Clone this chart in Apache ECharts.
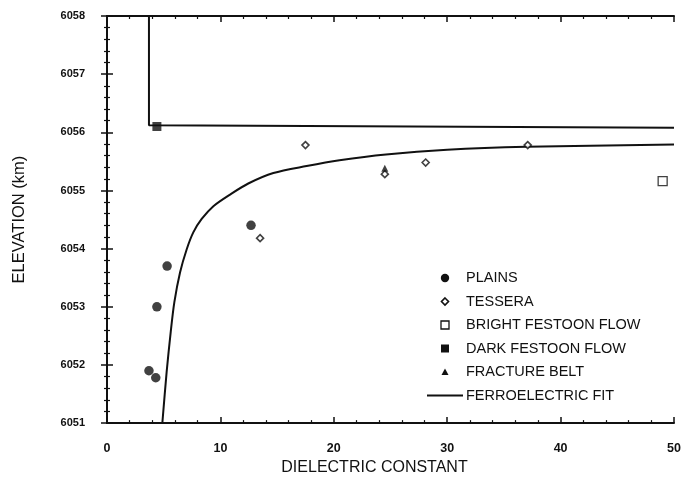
<!DOCTYPE html>
<html>
<head>
<meta charset="utf-8">
<script src="https://cdn.jsdelivr.net/npm/echarts@6/dist/echarts.min.js"></script>
<style>
  html, body { margin: 0; padding: 0; background: #fff; }
  #chart { width: 685px; height: 481px; }
</style>
</head>
<body>
<div id="chart"></div>
<script>
// Elevation vs. dielectric constant by terrain unit
var plains = [[3.7, 6051.9], [4.3, 6051.78], [4.4, 6053.0], [5.3, 6053.7], [12.7, 6054.4]];
var tessera = [[13.5, 6054.18], [17.5, 6055.78], [24.5, 6055.28], [28.1, 6055.48], [37.1, 6055.78]];
var brightFestoon = [[49.0, 6055.16]];
var darkFestoon = [[4.4, 6056.1]];
var fractureBelt = [[24.5, 6055.38]];
// Ferroelectric fit curve
var ferroFit = [[4.88, 6051.0], [5.26, 6051.88], [5.62, 6052.57], [5.94, 6053.08], [6.44, 6053.59],
  [7.03, 6053.99], [7.61, 6054.28], [8.35, 6054.51], [9.38, 6054.73], [10.85, 6054.93],
  [12.46, 6055.12], [14.67, 6055.3], [17.6, 6055.42], [20.5, 6055.52], [24.6, 6055.62],
  [30, 6055.7], [37, 6055.75], [50, 6055.79]];
// Boundary of the upper region
var boundary = [[3.7, 6058], [3.7, 6056.12], [50, 6056.08]];

var xTicks = { min: 0, max: 50, interval: 10 };
var yTicks = { min: 6051, max: 6058, interval: 1 };

var legendItems = [
  { name: 'PLAINS', symbol: 'circle' },
  { name: 'TESSERA', symbol: 'diamond' },
  { name: 'BRIGHT FESTOON FLOW', symbol: 'openSquare' },
  { name: 'DARK FESTOON FLOW', symbol: 'square' },
  { name: 'FRACTURE BELT', symbol: 'triangle' },
  { name: 'FERROELECTRIC FIT', symbol: 'line' }
];

var FONT = '"Liberation Sans", Arial, Helvetica, sans-serif';
var INK = '#111';

function axisCommon(showLabel) {
  return {
    axisLine: { show: true, lineStyle: { color: INK, width: 2 } },
    axisTick: { show: true, inside: true, length: 6, lineStyle: { color: INK, width: 1.5 } },
    minorTick: { show: true, splitNumber: 5, length: 3, lineStyle: { color: INK, width: 1.2 } },
    splitLine: { show: false },
    axisLabel: { show: showLabel, color: INK, fontFamily: FONT, fontWeight: 'bold',
      formatter: function (v) { return String(v); } }
  };
}

var xBottom = Object.assign(axisCommon(true), {
  type: 'value', position: 'bottom', min: xTicks.min, max: xTicks.max, interval: xTicks.interval,
  name: 'DIELECTRIC CONSTANT', nameLocation: 'middle', nameGap: 33,
  nameTextStyle: { color: INK, fontFamily: FONT, fontSize: 16, padding: [0, 32, 0, 0] }
});
xBottom.axisLabel.fontSize = 12.5;
xBottom.axisLabel.margin = 19;
var xTop = Object.assign(axisCommon(false), {
  type: 'value', position: 'top', min: xTicks.min, max: xTicks.max, interval: xTicks.interval
});
var yLeft = Object.assign(axisCommon(true), {
  type: 'value', position: 'left', min: yTicks.min, max: yTicks.max, interval: yTicks.interval,
  name: 'ELEVATION (km)', nameLocation: 'middle', nameGap: 79, nameRotate: 90,
  nameTextStyle: { color: INK, fontFamily: FONT, fontSize: 16.5 }
});
yLeft.axisLabel.fontSize = 11;
yLeft.axisLabel.margin = 22;
var yRight = Object.assign(axisCommon(false), {
  type: 'value', position: 'right', min: yTicks.min, max: yTicks.max, interval: yTicks.interval
});

// Legend drawn as graphic elements
var legendGraphics = [];
var lgX = 445, lgY0 = 278, lgStep = 23.5;
legendItems.forEach(function (it, i) {
  var y = lgY0 + i * lgStep;
  var shape;
  if (it.symbol === 'circle') {
    shape = { type: 'circle', shape: { cx: lgX, cy: y, r: 4.2 }, style: { fill: INK } };
  } else if (it.symbol === 'diamond') {
    shape = { type: 'polygon', shape: { points: [[lgX, y - 3.5], [lgX + 3.5, y], [lgX, y + 3.5], [lgX - 3.5, y]] },
      style: { fill: '#fff', stroke: INK, lineWidth: 1.6 } };
  } else if (it.symbol === 'openSquare') {
    shape = { type: 'rect', shape: { x: lgX - 4, y: y - 4, width: 8, height: 8 }, style: { fill: '#fff', stroke: INK, lineWidth: 1.3 } };
  } else if (it.symbol === 'square') {
    shape = { type: 'rect', shape: { x: lgX - 4, y: y - 4, width: 8, height: 8 }, style: { fill: INK } };
  } else if (it.symbol === 'triangle') {
    shape = { type: 'polygon', shape: { points: [[lgX, y - 3.5], [lgX + 3.5, y + 3], [lgX - 3.5, y + 3]] }, style: { fill: INK } };
  } else {
    shape = { type: 'line', shape: { x1: 427, y1: y, x2: 463, y2: y }, style: { stroke: INK, lineWidth: 2 } };
  }
  legendGraphics.push(shape);
  legendGraphics.push({
    type: 'text', x: 466, y: y,
    style: { text: it.name, fill: INK, font: '14.5px ' + FONT, verticalAlign: 'middle' }
  });
});

var chart = echarts.init(document.getElementById('chart'), null, { renderer: 'canvas' });
chart.setOption({
  animation: false,
  backgroundColor: '#fff',
  grid: { left: 107, right: 11, top: 16, bottom: 56, containLabel: false },
  xAxis: [xBottom, xTop],
  yAxis: [yLeft, yRight],
  graphic: legendGraphics,
  series: [
    { name: 'boundary', type: 'line', data: boundary, symbol: 'none', lineStyle: { color: INK, width: 2 }, z: 2 },
    { name: 'FERROELECTRIC FIT', type: 'line', data: ferroFit, smooth: 0.3, symbol: 'none', lineStyle: { color: INK, width: 2 }, z: 2 },
    { name: 'PLAINS', type: 'scatter', data: plains, symbol: 'circle', symbolSize: 9.5, itemStyle: { color: INK }, z: 3 },
    { name: 'TESSERA', type: 'scatter', data: tessera, symbol: 'diamond', symbolSize: 7,
      itemStyle: { color: '#fff', borderColor: INK, borderWidth: 1.6 }, z: 3 },
    { name: 'BRIGHT FESTOON FLOW', type: 'scatter', data: brightFestoon, symbol: 'rect', symbolSize: 9,
      itemStyle: { color: '#fff', borderColor: INK, borderWidth: 1.3 }, z: 3 },
    { name: 'DARK FESTOON FLOW', type: 'scatter', data: darkFestoon, symbol: 'rect', symbolSize: 9, itemStyle: { color: INK }, z: 3 },
    { name: 'FRACTURE BELT', type: 'scatter', data: fractureBelt, symbol: 'triangle', symbolSize: 7, itemStyle: { color: INK }, z: 4 }
  ]
});
</script>
</body>
</html>
